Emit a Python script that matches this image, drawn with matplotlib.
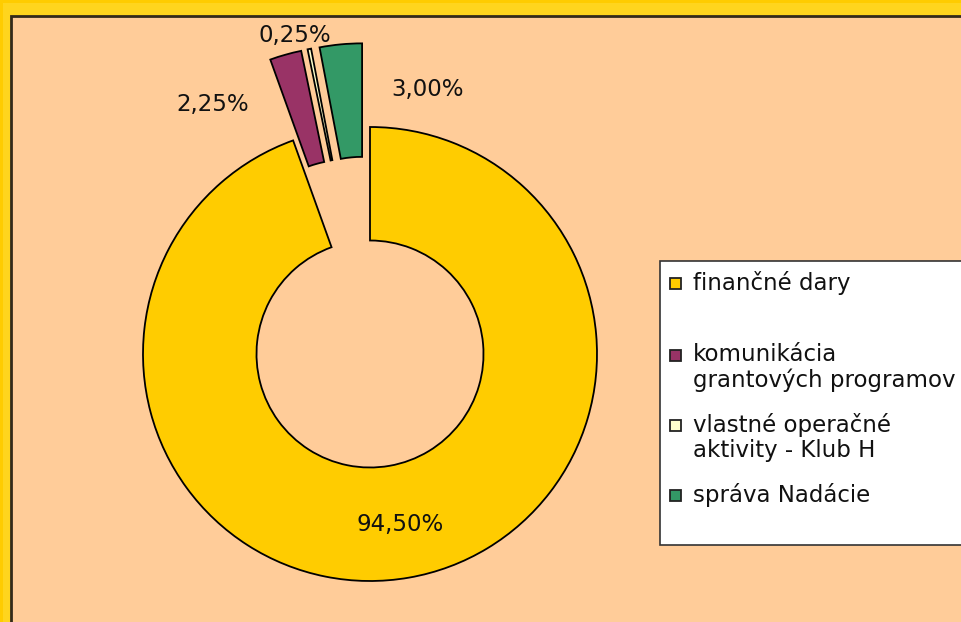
import matplotlib.pyplot as plt
from matplotlib.patches import Rectangle

# data
labels = ["finančné dary", "komunikácia\ngrantových programov",
          "vlastné operačné\naktivity - Klub H", "správa Nadácie"]
values = [94.50, 2.25, 0.25, 3.00]
colors = ["#FFCC00", "#993366", "#FFFFCC", "#339966"]
explode = [0, 84, 84, 84]

# label placement (pixels, y from top)
label_pos = [(400, 525), (213, 104), (295, 35), (428, 89)]

W, H = 962, 622
fig = plt.figure(figsize=(W / 100, H / 100), dpi=100)
fig.patch.set_facecolor("#FFD21A")
ax = fig.add_axes([0, 0, 1, 1])

# frame
ax.add_patch(Rectangle((0, 0), W, H, facecolor="#FFCC00", edgecolor="none", zorder=0))
ax.add_patch(Rectangle((3, -5), W, H - 3 + 5, facecolor="#FFD51E", edgecolor="none", zorder=0))
ax.add_patch(Rectangle((11, -5), W + 10, H - 15.5 + 5, facecolor="#FFCC99",
                       edgecolor="#332A1A", linewidth=2, zorder=1))

cx, cy, r = 370, H - 354, 227
wedges, _ = ax.pie(values, colors=colors, explode=explode, startangle=90,
                   counterclock=False, center=(cx, cy), radius=r, frame=True,
                   wedgeprops=dict(width=r * 0.5, edgecolor="black", linewidth=1.3))
for w in wedges:
    w.set_zorder(3)
ax.set_xlim(0, W)
ax.set_ylim(0, H)
ax.set_aspect("equal")
ax.axis("off")

for v, (x, y) in zip(values, label_pos):
    ax.text(x, H - y, f"{v:.2f}%".replace(".", ","), ha="center", va="center",
            fontsize=16.5, color="#111111", zorder=5)

# legend
ax.add_patch(Rectangle((660, H - 545), 320, 284, facecolor="white",
                       edgecolor="#333333", linewidth=1.2, zorder=4))
leg_y = [283, 355, 425, 495]
for lab, col, y in zip(labels, colors, leg_y):
    ax.add_patch(Rectangle((670, H - y - 5.5), 11, 11, facecolor=col,
                           edgecolor="#222222", linewidth=1.3, zorder=5))
    multi = "\n" in lab
    ax.text(693, H - y + (12 if multi else 0), lab, ha="left",
            va="top" if multi else "center", fontsize=16.5,
            linespacing=1.12, color="#111111", zorder=5)

fig.savefig("out.png", dpi=100, facecolor=fig.get_facecolor())
